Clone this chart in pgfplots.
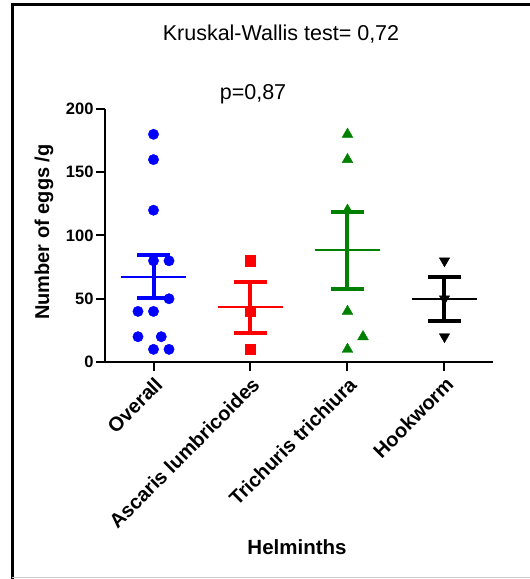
\documentclass[border=0pt]{standalone}
\usepackage{fontspec}
\setmainfont{Liberation Sans}
\usepackage{pgfplots}
\pgfplotsset{compat=1.18}

\definecolor{gpblue}{RGB}{0,0,255}
\definecolor{gpred}{RGB}{255,0,0}
\definecolor{gpgreen}{RGB}{0,128,0}

\begin{document}
\begin{tikzpicture}[x=1pt,y=1pt]
\useasboundingbox (0,0) rectangle (530,579);
% outer frame
\draw[line width=3pt] (12,0) -- (12,574) -- (530,574);
\draw[black!20, line width=1pt] (12,1) -- (530,1);

\node[anchor=base, font=\fontsize{21.5}{24}\selectfont] at (281,538) {Kruskal-Wallis test= 0,72};
\node[anchor=base, font=\fontsize{21.5}{24}\selectfont] at (253,479) {p=0,87};
\node[anchor=base, font=\fontsize{20.5}{24}\selectfont\bfseries] at (297,24) {Helminths};
\node[rotate=90, font=\fontsize{20}{24}\selectfont\bfseries] at (44,347) {Number of eggs /g};

\begin{axis}[
    at={(105pt,217pt)}, anchor=south west,
    scale only axis, width=388pt, height=253pt,
    xmin=-0.5, xmax=3.5,
    ymin=0, ymax=200,
    clip=false,
    axis lines=left,
    axis line style={line width=2pt, -},
    tick align=outside,
    major tick length=9pt,
    tick style={line width=2pt, black},
    xtick={0,1,2,3},
    xticklabels={Overall, Ascaris lumbricoides, Trichuris trichiura, Hookworm},
    ytick={0,50,100,150,200},
    /pgf/number format/assume math mode=true,
    yticklabel style={font=\fontsize{16.5}{18}\selectfont\bfseries, xshift=1pt},
    xticklabel style={rotate=45, anchor=north east, font=\fontsize{20}{22}\selectfont\bfseries},
    unbounded coords=jump,
]

% individual values
\addplot[only marks, mark=*, mark size=5.2pt, color=gpblue] coordinates {
    (0,180) (0,160) (0,120) (0,80) (0.16,80) (0.16,50)
    (-0.16,40) (0,40) (-0.16,20) (0.08,20) (0,10) (0.16,10)
};
\addplot[only marks, mark=square*, mark size=5.2pt, color=gpred] coordinates {
    (1,80) (1,40) (1,10)
};
\addplot[only marks, mark=triangle*, mark size=6.2pt, color=gpgreen] coordinates {
    (2,180) (2,160) (2,120) (2,40) (2.16,20) (2,10)
};
\addplot[only marks, mark=triangle*, mark size=6pt, mark options={rotate=180}, color=black] coordinates {
    (3,80) (3,50) (3,20)
};

% mean +- SEM
\addplot[gpblue, line width=1.8pt] coordinates {(-0.33,67.5) (0.33,67.5)};
\addplot[gpblue, line width=4pt] coordinates {(0,50.7) (0,84.3)};
\addplot[gpblue, line width=4pt] coordinates {(-0.17,50.7) (0.17,50.7) (0,nan) (-0.17,84.3) (0.17,84.3)};

\addplot[gpred, line width=1.8pt] coordinates {(0.67,43.3) (1.33,43.3)};
\addplot[gpred, line width=4pt] coordinates {(1,23.0) (1,63.6)};
\addplot[gpred, line width=4pt] coordinates {(0.83,23.0) (1.17,23.0) (1,nan) (0.83,63.6) (1.17,63.6)};

\addplot[gpgreen, line width=1.8pt] coordinates {(1.67,88.3) (2.33,88.3)};
\addplot[gpgreen, line width=4pt] coordinates {(2,57.9) (2,118.7)};
\addplot[gpgreen, line width=4pt] coordinates {(1.83,57.9) (2.17,57.9) (2,nan) (1.83,118.7) (2.17,118.7)};

\addplot[black, line width=1.8pt] coordinates {(2.67,50) (3.33,50)};
\addplot[black, line width=4pt] coordinates {(3,32.7) (3,67.3)};
\addplot[black, line width=4pt] coordinates {(2.83,32.7) (3.17,32.7) (3,nan) (2.83,67.3) (3.17,67.3)};

\end{axis}
\end{tikzpicture}
\end{document}
